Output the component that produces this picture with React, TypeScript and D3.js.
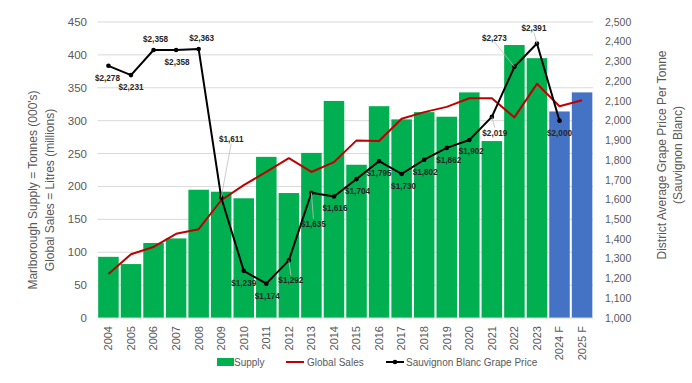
import React from 'react';
import * as d3 from 'd3';

const years = ['2004','2005','2006','2007','2008','2009','2010','2011','2012','2013','2014','2015','2016','2017','2018','2019','2020','2021','2022','2023','2024 F','2025 F'];
const supply = [93,82,114,121,195,192,182,245,190,251,330,233,322,302,313,306,343,269,415,395,314,343];
const globalSales = [67,97,108,128,135,179,202,222,243,222,237,270,269,303,313,321,334,334,305,356,322,331];
const grapePrice: (number|null)[] = [2278,2231,2358,2358,2363,1611,1239,1174,1292,1635,1616,1704,1795,1730,1802,1862,1902,2019,2273,2391,2000,null];
const isForecast = [false,false,false,false,false,false,false,false,false,false,false,false,false,false,false,false,false,false,false,false,true,true];
const leftTicks = [0,50,100,150,200,250,300,350,400,450];
const rightTicks = [1000,1100,1200,1300,1400,1500,1600,1700,1800,1900,2000,2100,2200,2300,2400,2500];

// label placement relative to each price point (layout only)
const labelOffsets: [number, number, boolean][] = [
  [-1,12,false],[0,12,false],[2,-11,false],[1,12,false],[3,-11,false],[10,-58,true],
  [0,12,false],[1,12,false],[2,20,true],[2,31,true],[1,12,false],[1,12,false],
  [0,12,false],[2,12,false],[1,12,false],[2,12,false],[2,11,false],[3,16,true],
  [-20,-29,true],[-3,-15,true],[0,12,false],[0,0,false]
];

const W = 692, H = 383;
const plotL = 97.5, plotR = 593, plotT = 22, plotB = 318;
const GREEN = '#00b050', BLUE = '#4472c4', RED = '#c00000';
const FONT = '"Liberation Sans", Arial, sans-serif';

export default function App() {
  const x = d3.scaleBand<string>().domain(years).range([plotL, plotR]).paddingInner(0.09).paddingOuter(0.03);
  const yL = d3.scaleLinear().domain([0, 450]).range([plotB, plotT]);
  const yR = d3.scaleLinear().domain([1000, 2500]).range([plotB, plotT]);
  const cx = (i: number) => (x(years[i]) as number) + x.bandwidth() / 2;

  const salesLine = d3.line<number>().x((_, i) => cx(i)).y(d => yL(d))(globalSales) as string;
  const priceLine = d3.line<number|null>().defined(d => d != null).x((_, i) => cx(i)).y(d => yR(d as number))(grapePrice) as string;
  const fmt = d3.format(',');

  return (
    <div style={{ position: 'fixed', left: 0, top: 0 }}>
      <svg width={W} height={H} style={{ display: 'block', background: '#fff' }} fontFamily={FONT}>
        {leftTicks.map(t => (
          <g key={'l' + t}>
            {t > 0 && <line x1={plotL} x2={plotR} y1={yL(t)} y2={yL(t)} stroke="#d9d9d9" strokeWidth={1} />}
            <text x={87} y={yL(t)} dy="0.35em" textAnchor="end" fontSize={11.5} fill="#595959">{t}</text>
          </g>
        ))}
        {rightTicks.map(t => (
          <text key={'r' + t} x={605} y={yR(t)} dy="0.35em" textAnchor="start" fontSize={10.5} fill="#595959">{fmt(t)}</text>
        ))}
        {supply.map((v, i) => (
          <rect key={'b' + i} x={x(years[i])} y={yL(v)} width={x.bandwidth()} height={yL(0) - yL(v)} fill={isForecast[i] ? BLUE : GREEN} />
        ))}
        <line x1={plotL} x2={plotR} y1={plotB} y2={plotB} stroke="#d9d9d9" />
        <path d={salesLine} fill="none" stroke={RED} strokeWidth={2} strokeLinejoin="round" />
        <path d={priceLine} fill="none" stroke="#000" strokeWidth={2} strokeLinejoin="round" />
        {grapePrice.map((v, i) => v == null ? null : (
          <circle key={'m' + i} cx={cx(i)} cy={yR(v)} r={2.3} fill="#000" />
        ))}
        {grapePrice.map((v, i) => {
          if (v == null) return null;
          const [dx, dy, leader] = labelOffsets[i];
          const px = cx(i), py = yR(v);
          const lx = px + dx, ly = py + dy;
          const ey = dy < 0 ? ly + 4 : ly - 5;
          return (
            <g key={'t' + i}>
              {leader && <line x1={lx} y1={ey} x2={px} y2={py} stroke="#bfbfbf" strokeWidth={0.8} />}
              <text x={lx} y={ly} dy="0.35em" textAnchor="middle" fontSize={8.2} fontWeight="bold" fill="#262626">{'$' + fmt(v)}</text>
            </g>
          );
        })}
        {years.map((yr, i) => (
          <text key={'x' + i} transform={`translate(${cx(i)},${326}) rotate(-90)`} dy="0.35em" textAnchor="end" fontSize={11} fill="#595959">{yr}</text>
        ))}
        <g transform={`translate(${33},${190}) rotate(-90)`}>
          <text textAnchor="middle" dy="0.35em" fontSize={12} fill="#595959">Marlborough Supply = Tonnes (000's)</text>
          <text textAnchor="middle" y={17} dy="0.35em" fontSize={12} fill="#595959">Global Sales = Litres (millions)</text>
        </g>
        <g transform={`translate(${662},${155}) rotate(-90)`}>
          <text textAnchor="middle" dy="0.35em" fontSize={12} fill="#595959">District Average Grape Price Per Tonne</text>
          <text textAnchor="middle" y={16} dy="0.35em" fontSize={12} fill="#595959">(Sauvignon Blanc)</text>
        </g>
        <g fontSize={10} fill="#595959">
          <rect x={217} y={358} width={17} height={8} fill={GREEN} />
          <text x={234} y={362} dy="0.35em">Supply</text>
          <line x1={286} x2={304} y1={362} y2={362} stroke={RED} strokeWidth={2} />
          <text x={307} y={362} dy="0.35em">Global Sales</text>
          <line x1={386} x2={404} y1={362} y2={362} stroke="#000" strokeWidth={2} />
          <circle cx={395} cy={362} r={2.3} fill="#000" />
          <text x={406} y={362} dy="0.35em">Sauvignon Blanc Grape Price</text>
        </g>
      </svg>
    </div>
  );
}
